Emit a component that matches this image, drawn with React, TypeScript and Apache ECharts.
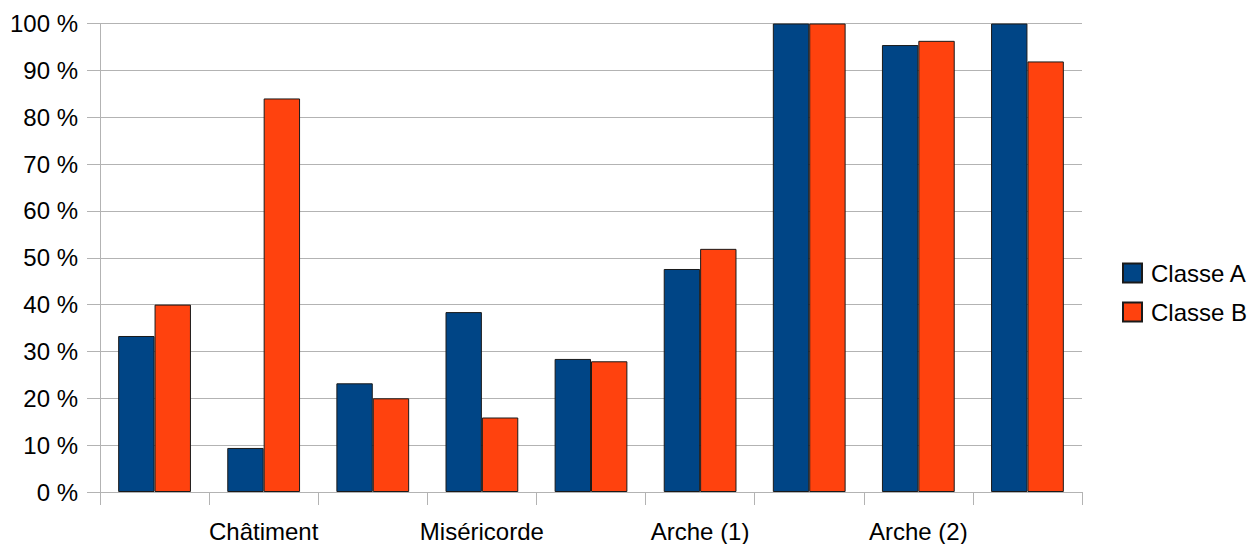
import React, { useEffect, useRef } from "react";
import * as echarts from "echarts";

// Category labels (every other label is shown on the axis)
const categories = ["", "Châtiment", "", "Miséricorde", "", "Arche (1)", "", "Arche (2)", ""];
const seriesNames = ["Classe A", "Classe B"];
const classeA = [33.3, 9.4, 23.2, 38.4, 28.4, 47.6, 100, 95.4, 100];
const classeB = [40, 84, 20, 15.9, 27.9, 51.9, 100, 96.3, 91.9];
const yTicks = [0, 10, 20, 30, 40, 50, 60, 70, 80, 90, 100];

const FONT = "'Liberation Sans', Arial, sans-serif";
const GRID_COLOR = "#b3b3b3";

export default function App() {
  const ref = useRef<HTMLDivElement>(null);

  useEffect(() => {
    if (!ref.current) return;
    const chart = echarts.init(ref.current, null, { renderer: "svg" });
    chart.setOption({
      animation: false,
      textStyle: { fontFamily: FONT },
      grid: { left: 100, right: 174, top: 23.5, bottom: 52, containLabel: false },
      legend: {
        orient: "vertical",
        left: 1122,
        top: 261,
        padding: 0,
        itemWidth: 19,
        itemHeight: 19,
        itemGap: 15,
        icon: "rect",
        data: seriesNames,
        textStyle: { fontFamily: FONT, fontSize: 24, color: "#000", padding: [0, 0, 0, 4] },
      },
      xAxis: {
        type: "category",
        data: categories,
        boundaryGap: true,
        axisLine: { lineStyle: { color: GRID_COLOR, width: 1 } },
        axisTick: { show: true, interval: 0, length: 13, lineStyle: { color: GRID_COLOR } },
        axisLabel: {
          interval: (i: number) => i % 2 === 1,
          fontFamily: FONT,
          fontSize: 24,
          color: "#000",
          margin: 27,
        },
        splitLine: { show: false },
      },
      yAxis: {
        type: "value",
        min: yTicks[0],
        max: yTicks[yTicks.length - 1],
        interval: 10,
        axisLine: { show: true, lineStyle: { color: GRID_COLOR, width: 1 } },
        axisTick: { show: true, length: 13, lineStyle: { color: GRID_COLOR } },
        axisLabel: {
          formatter: "{value} %",
          fontFamily: FONT,
          fontSize: 24,
          color: "#000",
          margin: 22,
        },
        splitLine: { show: true, lineStyle: { color: GRID_COLOR, width: 1 } },
      },
      series: [
        {
          name: seriesNames[0],
          type: "bar",
          data: classeA,
          barGap: "0%",
          barCategoryGap: "33.3%",
          itemStyle: { color: "#004586", borderColor: "#1a1a1a", borderWidth: 1 },
        },
        {
          name: seriesNames[1],
          type: "bar",
          data: classeB,
          barGap: "0%",
          barCategoryGap: "33.3%",
          itemStyle: { color: "#ff420e", borderColor: "#1a1a1a", borderWidth: 1 },
        },
      ],
    });
    return () => chart.dispose();
  }, []);

  return <div ref={ref} style={{ width: 1256, height: 544, position: "absolute", left: 0, top: 0 }} />;
}
